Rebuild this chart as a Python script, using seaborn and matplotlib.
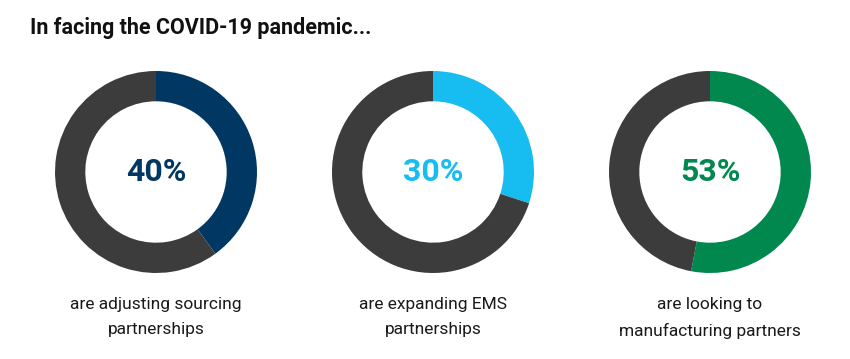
import matplotlib
matplotlib.use("Agg")
import matplotlib.pyplot as plt
import seaborn as sns

sns.set_theme(style="white")
plt.rcParams['font.family'] = ['Roboto', 'DejaVu Sans']

title = "In facing the COVID-19 pandemic..."
values = [40, 30, 53]
labels = ["40%", "30%", "53%"]
captions = ["are adjusting sourcing\npartnerships",
            "are expanding EMS\npartnerships",
            "are looking to\nmanufacturing partners"]
colors = ["#003863", "#17BDF0", "#00884F"]
grey = "#3C3C3C"

W, H = 850, 359
fig = plt.figure(figsize=(W / 100, H / 100), dpi=100)
fig.patch.set_facecolor("white")

centers_x = [156, 433, 710]
cy = 172
R = 101

for i, v in enumerate(values):
    cx = centers_x[i]
    ax = fig.add_axes([(cx - R) / W, (H - cy - R) / H, 2 * R / W, 2 * R / H])
    ax.pie([v, 100 - v], colors=[colors[i], grey], startangle=90, counterclock=False,
           radius=1, wedgeprops=dict(width=0.3, edgecolor="none", linewidth=0))
    ax.set_xlim(-1, 1)
    ax.set_ylim(-1, 1)
    ax.set_aspect("auto")
    ax.axis("off")
    ax.text(0, 0, labels[i], ha="center", va="center", fontsize=23,
            fontweight="bold", color=colors[i])
    fig.text(cx / W, 1 - 297 / H, captions[i], ha="center", va="top",
             fontsize=12.5, color="#1a1a1a", linespacing=1.85)

fig.text(30 / W, 1 - 28 / H, title, ha="left", va="center", fontsize=15.5,
         fontweight="bold", color="#111111")

fig.savefig("out.png", dpi=100, facecolor="white")
